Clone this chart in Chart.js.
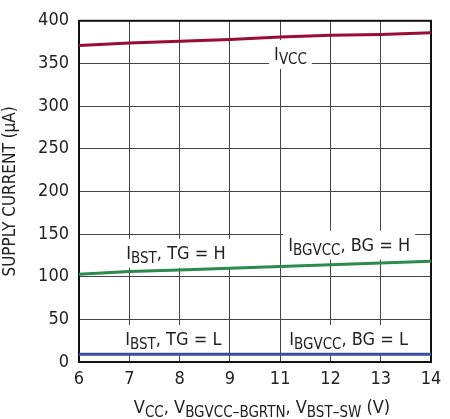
<!DOCTYPE html>
<html>
<head>
<meta charset="utf-8">
<script src="https://cdn.jsdelivr.net/npm/chart.js@4"></script>
<style>
  html, body { margin: 0; padding: 0; background: #fff; }
  #wrap { width: 450px; height: 419px; }
</style>
</head>
<body>
<div id="wrap"><canvas id="chart" width="450" height="419"></canvas></div>
<script>
// ---- datos ----
const xLabels = ["6", "7", "8", "9", "11", "12", "13", "14"];
const yTicks = [0, 50, 100, 150, 200, 250, 300, 350, 400];
const iVcc = [371, 374, 376, 378, 381, 383, 384, 386];
const iBstH = [103, 106, 108, 110, 112, 114, 116, 118];
const iBstL = [9, 9, 9, 9, 9, 9, 9, 9];

const FONT = "'Liberation Sans Narrow', 'DejaVu Sans Condensed', 'Liberation Sans', sans-serif";

// etiquetas sobre la grafica (posicion en unidades de datos: indice x, valor y)
const etiquetas = [
  { x: 3.88, y: 361, partes: [["I"], ["VCC", 1]] },
  { x: 0.94, y: 128, partes: [["I"], ["BST", 1], [", TG = H"]] },
  { x: 4.16, y: 137.5, partes: [["I"], ["BGVCC", 1], [", BG = H"]] },
  { x: 0.92, y: 27, partes: [["I"], ["BST", 1], [", TG = L"]] },
  { x: 4.18, y: 27, partes: [["I"], ["BGVCC", 1], [", BG = L"]] }
];
const tituloX = [["V"], ["CC", 1], [", V"], ["BGVCC\u2013BGRTN", 1], [", V"], ["BST\u2013SW", 1], [" (V)"]];

function anchoTexto(ctx, partes) {
  let w = 0;
  partes.forEach(p => {
    ctx.font = (p[1] ? "15px " : "18px ") + FONT;
    w += ctx.measureText(p[0]).width;
  });
  return w;
}

function dibujarTexto(ctx, partes, x, baseline) {
  ctx.textBaseline = "alphabetic";
  ctx.textAlign = "left";
  ctx.fillStyle = "#222";
  partes.forEach(p => {
    ctx.font = (p[1] ? "15px " : "18px ") + FONT;
    ctx.fillText(p[0], x, baseline + (p[1] ? 4 : 0));
    x += ctx.measureText(p[0]).width;
  });
}

const textoPlugin = {
  id: "textos",
  beforeDatasetsDraw(chart) {
    const ctx = chart.ctx;
    const sx = chart.scales.x, sy = chart.scales.y;
    ctx.save();
    etiquetas.forEach(e => {
      const px = sx.getPixelForValue(e.x);
      const py = sy.getPixelForValue(e.y);
      const w = anchoTexto(ctx, e.partes);
      ctx.fillStyle = "#fff";
      ctx.fillRect(px - 5, py - 14, w + 10, 29);
      dibujarTexto(ctx, e.partes, px, py + 6);
    });
    // marco
    const a = chart.chartArea;
    ctx.strokeStyle = "#111";
    ctx.lineWidth = 2;
    ctx.strokeRect(a.left, a.top, a.right - a.left, a.bottom - a.top);
    ctx.restore();
  },
  afterDraw(chart) {
    const ctx = chart.ctx;
    const a = chart.chartArea;
    ctx.save();
    const w = anchoTexto(ctx, tituloX);
    dibujarTexto(ctx, tituloX, (a.left + a.right) / 2 + 7 - w / 2, 413);
    ctx.restore();
  }
};

new Chart(document.getElementById("chart"), {
  type: "line",
  data: {
    datasets: [
      { data: iVcc.map((v, i) => ({ x: i, y: v })), borderColor: "#9a0c35", borderWidth: 3 },
      { data: iBstH.map((v, i) => ({ x: i, y: v })), borderColor: "#2b8a4c", borderWidth: 3 },
      { data: iBstL.map((v, i) => ({ x: i, y: v })), borderColor: "#3a4e9e", borderWidth: 3 }
    ]
  },
  options: {
    responsive: false,
    animation: false,
    layout: { padding: { left: 0, right: 19, top: 10, bottom: 0 } },
    elements: { point: { radius: 0 }, line: { tension: 0 } },
    plugins: { legend: { display: false }, tooltip: { enabled: false } },
    scales: {
      x: {
        type: "linear", min: 0, max: xLabels.length - 1,
        afterFit: s => { s.height = 57; },
        afterBuildTicks: s => { s.ticks = xLabels.map((l, i) => ({ value: i })); },
        ticks: {
          callback: v => xLabels[v], color: "#222", padding: 7,
          font: { family: FONT, size: 18 }, maxRotation: 0, autoSkip: false
        },
        grid: { color: "#444", lineWidth: 1, drawTicks: false },
        border: { color: "#111", width: 2 }
      },
      y: {
        min: 0, max: 400,
        afterFit: s => { s.width = 79; },
        afterBuildTicks: s => { s.ticks = yTicks.map(v => ({ value: v })); },
        ticks: { color: "#222", padding: 10, font: { family: FONT, size: 18 } },
        grid: { color: "#444", lineWidth: 1, drawTicks: false },
        border: { color: "#111", width: 2 },
        title: {
          display: true, text: "SUPPLY CURRENT (\u00b5A)", color: "#222",
          font: { family: FONT, size: 17 }, padding: { top: 0, bottom: 4 }
        }
      }
    }
  },
  plugins: [textoPlugin]
});
</script>
</body>
</html>
